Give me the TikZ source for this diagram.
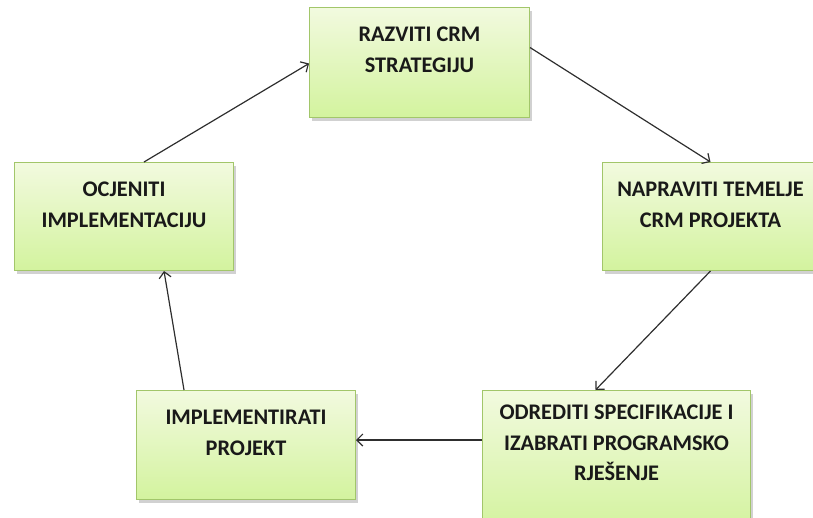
\documentclass[tikz,border=0pt]{standalone}
\usepackage{fontspec}
\newfontfamily\boxfont{Carlito}
\usetikzlibrary{arrows.meta,shadows}
\definecolor{boxtop}{HTML}{F2FADF}
\definecolor{boxbot}{HTML}{D3F39E}
\definecolor{boxborder}{HTML}{A2C66A}
\definecolor{arrcol}{HTML}{2E2E2E}
\tikzset{
  box/.style={draw=boxborder, line width=1pt, top color=boxtop, bottom color=boxbot,
    inner sep=0pt, anchor=north west,
    drop shadow={shadow xshift=2pt, shadow yshift=-3pt, opacity=0.3, fill=black!60}},
  lbl/.style={font=\boxfont\bfseries\fontsize{22.3}{30.5}\selectfont, align=center,
    inner sep=0pt, text=black!90, anchor=north},
  arr/.style={draw=arrcol, line width=1.2pt, -{Straight Barb[length=6pt,width=12pt,line width=1.2pt]}}
}
\begin{document}
\begin{tikzpicture}[x=1pt,y=1pt]
\useasboundingbox (0,0) rectangle (813,-517);
\node[box, minimum width=220pt, minimum height=110pt] (raz) at (309,-7) {};
\node[box, minimum width=216pt, minimum height=108pt] (nap) at (602,-162) {};
\node[box, minimum width=268pt, minimum height=140pt] (odr) at (482,-390) {};
\node[box, minimum width=219pt, minimum height=109pt] (imp) at (136,-390) {};
\node[box, minimum width=219pt, minimum height=108pt] (ocj) at (14,-162) {};
\node[lbl] (razt) at ([yshift=-20pt]raz.north) {RAZVITI CRM\\STRATEGIJU};
\node[lbl] (napt) at ([yshift=-20pt]nap.north) {NAPRAVITI TEMELJE\\CRM PROJEKTA};
\node[lbl] (odrt) at ([yshift=-15pt]odr.north) {ODREDITI SPECIFIKACIJE I\\IZABRATI PROGRAMSKO\\RJEŠENJE};
\node[lbl] (impt) at ([yshift=-20pt]imp.north) {IMPLEMENTIRATI\\PROJEKT};
\node[lbl] (ocjt) at ([yshift=-20pt]ocj.north) {OCJENITI\\IMPLEMENTACIJU};
\draw[arr] ([xshift=20pt]ocj.north) -- ([yshift=-1pt]raz.west);
\draw[arr] ([yshift=15pt]raz.east) -- (nap.north);
\draw[arr] (nap.south) -- ([xshift=-21pt]odr.north);
\draw[arr] ([yshift=5pt]imp.east -| odr.west) -- ([yshift=5pt]imp.east);
\draw[arr] ([xshift=-62pt]imp.north) -- ([xshift=40pt]ocj.south);
\end{tikzpicture}
\end{document}
